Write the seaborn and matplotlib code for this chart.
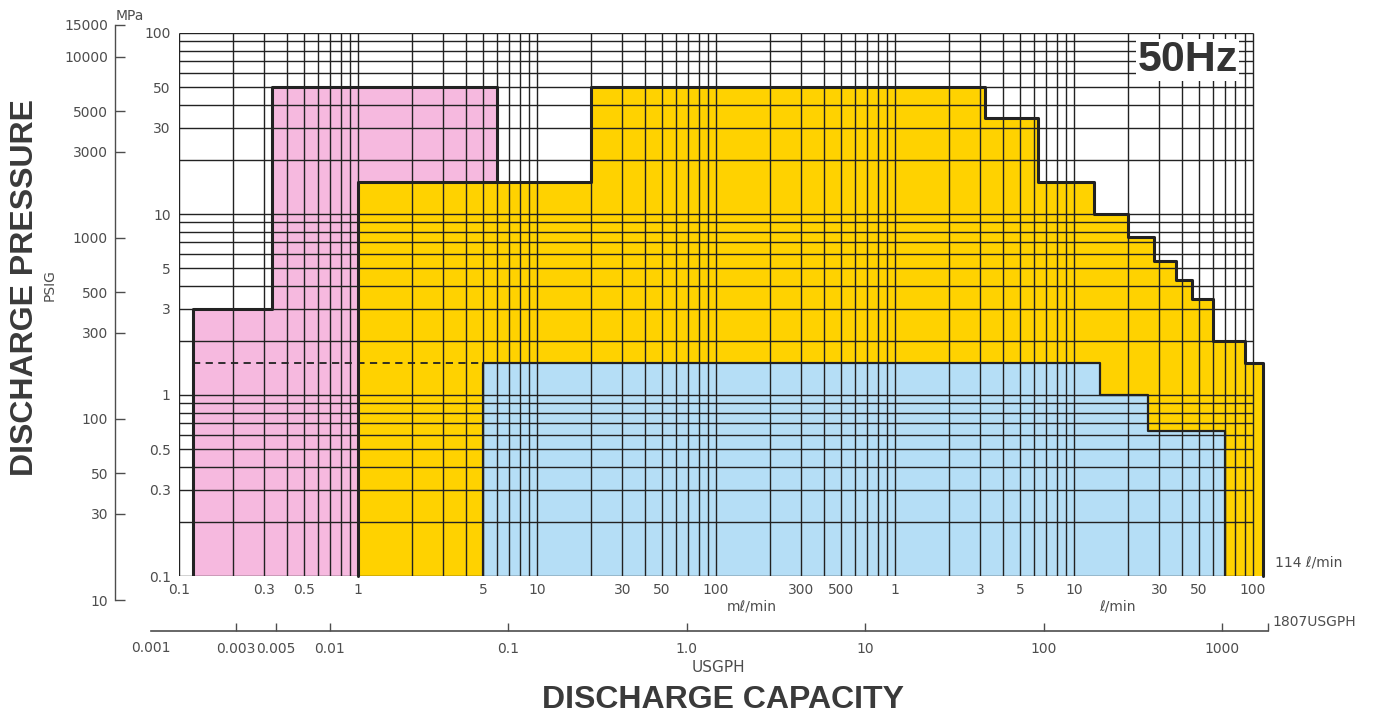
import numpy as np
import pandas as pd
import matplotlib
import matplotlib.pyplot as plt
import seaborn as sns

matplotlib.use('Agg')

# flow in ml/min, pressure in MPa
pink_q = [0.12, 0.33, 6]
pink_p = [3, 50]
yellow_q = [1, 20, 3200, 6300, 13000, 20000, 28000, 37000, 46000, 60000, 90000, 114000]
yellow_p = [15, 50, 34, 15, 10, 7.5, 5.5, 4.3, 3.4, 2, 1.5]
blue_q = [5, 14000, 26000, 70000]
blue_p = [1.5, 1.0, 0.63]
dash_q = [0.12, 5]
dash_p = [1.5, 1.5]

q_ticks = [0.1, 0.3, 0.5, 1, 5, 10, 30, 50, 100, 300, 500, 1000, 3000, 5000, 10000, 30000, 50000, 100000]
q_labels = ['0.1', '0.3', '0.5', '1', '5', '10', '30', '50', '100', '300', '500',
            '1', '3', '5', '10', '30', '50', '100']
mpa_ticks = [0.1, 0.3, 0.5, 1, 3, 5, 10, 30, 50, 100]
mpa_labels = ['0.1', '0.3', '0.5', '1', '3', '5', '10', '30', '50', '100']
psi_ticks = [10, 30, 50, 100, 300, 500, 1000, 3000, 5000, 10000, 15000]
gph_ticks = [0.003, 0.005, 0.01, 0.1, 1.0, 10, 100, 1000, 1807]
gph_labels = ['0.003', '0.005', '0.01', '0.1', '1.0', '10', '100', '1000', '']

PINK = '#f6b9df'
YELLOW = '#ffd200'
BLUE = '#b5def6'
INK = '#222222'
GREY = '#4d4d4d'

W, H = 1377, 718


def px(x, y):
    return x / W, 1 - y / H


def outline(edges, levels, floor=0.1):
    xs, ys = [edges[0]], [floor]
    for i, lv in enumerate(levels):
        xs += [edges[i], edges[i + 1]]
        ys += [lv, lv]
    xs.append(edges[-1])
    ys.append(floor)
    return pd.DataFrame({'q': xs, 'p': ys})


def zone(ax, edges, levels, color, z):
    ax.fill_between(edges, list(levels) + [levels[-1]], 0.1, step='post',
                    color=color, lw=0, zorder=z)


def main():
    sns.set_theme(style='white')
    plt.rcParams['font.family'] = ['DejaVu Sans']

    fig = plt.figure(figsize=(W / 100, H / 100), dpi=100)
    ax = fig.add_axes([179 / W, (H - 576) / H, 1088 / W, 543 / H])
    ax.set_xscale('log')
    ax.set_yscale('log')
    ax.set_xlim(0.1, 1.2e5)
    ax.set_ylim(0.1, 100)
    for s in ax.spines.values():
        s.set_visible(False)

    zone(ax, pink_q, pink_p, PINK, 1)
    sns.lineplot(data=outline(pink_q, pink_p), x='q', y='p', sort=False, estimator=None,
                 color=INK, linewidth=2.2, zorder=2, ax=ax)
    zone(ax, yellow_q, yellow_p, YELLOW, 3)
    zone(ax, blue_q, blue_p, BLUE, 4)

    x_grid = [m * 10.0 ** k for k in range(-1, 5) for m in range(1, 10)] + [1e5]
    y_grid = [m * 10.0 ** k for k in range(-1, 2) for m in range(1, 10)] + [100]
    ax.vlines(x_grid, 0.1, 100, color=INK, lw=1.0, zorder=6)
    ax.hlines(y_grid, 0.1, 1e5, color=INK, lw=1.0, zorder=6)

    sns.lineplot(data=outline(yellow_q, yellow_p), x='q', y='p', sort=False, estimator=None,
                 color=INK, linewidth=2.2, zorder=7, clip_on=False, ax=ax)
    sns.lineplot(data=outline(blue_q, blue_p), x='q', y='p', sort=False, estimator=None,
                 color=INK, linewidth=1.6, zorder=7, ax=ax)
    sns.lineplot(x=dash_q, y=dash_p, color=INK, linewidth=1.3, linestyle=(0, (4, 3)),
                 zorder=7, ax=ax)

    ax.set_xticks(q_ticks, q_labels)
    ax.set_yticks(mpa_ticks, mpa_labels)
    ax.minorticks_off()
    ax.tick_params(length=0, labelsize=10, labelcolor=GREY)
    ax.tick_params(axis='x', pad=5)
    ax.tick_params(axis='y', pad=6)
    ax.set_xlabel('')
    ax.set_ylabel('')
    ax.text(0.927, 0.95, '50Hz', transform=ax.transAxes, ha='center', va='center',
            fontsize=31, fontweight='bold', color='#333333', family='Liberation Sans',
            bbox=dict(facecolor='white', edgecolor='none', pad=1), zorder=10)

    # PSIG scale on the far left
    psi = fig.add_axes([115 / W, (H - 600) / H, 0.001, 575 / H])
    psi.set_yscale('log')
    psi.set_ylim(10, 15000)
    psi.patch.set_alpha(0)
    for k in ['top', 'right', 'bottom']:
        psi.spines[k].set_visible(False)
    psi.spines['left'].set_color(GREY)
    psi.spines['left'].set_linewidth(1.0)
    psi.set_yticks(psi_ticks, [str(v) for v in psi_ticks])
    psi.minorticks_off()
    psi.set_xticks([])
    psi.tick_params(axis='y', left=True, direction='in', length=7, width=1.0, color=GREY,
                    labelsize=10, labelcolor=GREY, pad=5)

    # USGPH scale below
    gph = fig.add_axes([151 / W, (H - 631) / H, (1268 - 151) / W, 0.001])
    gph.set_xscale('log')
    gph.set_xlim(0.001, 1807)
    gph.patch.set_alpha(0)
    for k in ['top', 'right', 'left']:
        gph.spines[k].set_visible(False)
    gph.spines['bottom'].set_color(GREY)
    gph.spines['bottom'].set_linewidth(1.2)
    gph.set_xticks(gph_ticks, gph_labels)
    gph.minorticks_off()
    gph.set_yticks([])
    gph.tick_params(axis='x', bottom=True, direction='in', length=6, width=1.0, color=GREY,
                    labelsize=10, labelcolor=GREY, pad=8)

    txt = dict(color=GREY, fontsize=10, va='center')
    fig.text(*px(151, 648), '0.001', ha='center', **txt)
    fig.text(*px(130, 16), 'MPa', ha='center', **txt)
    fig.text(*px(752, 607), 'm\u2113/min', ha='center', **txt)
    fig.text(*px(1117, 607), '\u2113/min', ha='center', **txt)
    fig.text(*px(1275, 562), '114 \u2113/min', ha='left', **txt)
    fig.text(*px(1272, 622), '1807USGPH', ha='left', **txt)
    fig.text(*px(718, 668), 'USGPH', ha='center', color=GREY, fontsize=11, va='center')
    fig.text(*px(50, 285), 'PSIG', ha='center', rotation=90, color=GREY, fontsize=10, va='center')

    big = dict(fontsize=23, fontweight='bold', color='#3a3a3a', family='Liberation Sans',
               ha='center', va='center')
    fig.text(*px(25, 288), 'DISCHARGE PRESSURE', rotation=90, **big)
    fig.text(*px(723, 700), 'DISCHARGE CAPACITY', **big)

    plt.savefig('out.png', dpi=100)


if __name__ == '__main__':
    main()
